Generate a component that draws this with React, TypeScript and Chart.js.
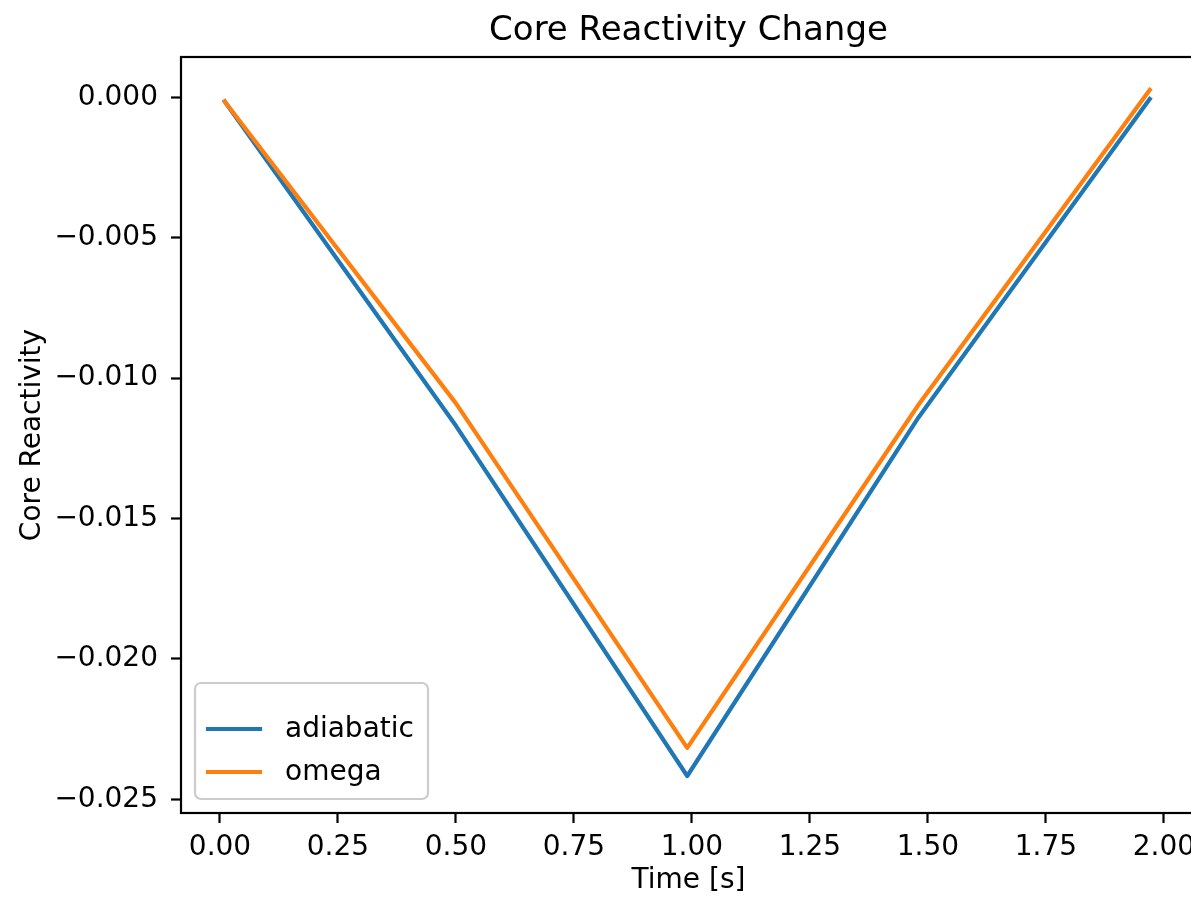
import { useEffect, useRef } from 'react';
import { Chart, registerables } from 'chart.js';

Chart.register(...registerables);

const timeValues = [0.01, 0.5, 0.99, 1.48, 1.97];
const adiabaticValues = [-0.00015, -0.0117, -0.02417, -0.0114, -0.00006];
const omegaValues = [-0.00015, -0.0109, -0.02317, -0.01095, 0.00026];
const xTicks = [0, 0.25, 0.5, 0.75, 1, 1.25, 1.5, 1.75, 2];
const yTicks = [0, -0.005, -0.01, -0.015, -0.02, -0.025];
const seriesLabels = ['adiabatic', 'omega'];
const seriesColors = ['#1f77b4', '#ff7f0e'];
const titleText = 'Core Reactivity Change';
const xLabel = 'Time [s]';
const yLabel = 'Core Reactivity';

const FONT = '"DejaVu Sans", sans-serif';

const decorPlugin = {
  id: 'decor',
  afterDraw(chart: any) {
    const { ctx, chartArea: a } = chart;
    ctx.save();
    // spines
    ctx.strokeStyle = '#000';
    ctx.lineWidth = 2.2;
    ctx.strokeRect(a.left, a.top, a.right - a.left, a.bottom - a.top);
    // title & axis labels
    ctx.fillStyle = '#000';
    ctx.textAlign = 'center';
    ctx.textBaseline = 'alphabetic';
    const cx = (a.left + a.right) / 2;
    ctx.font = `34px ${FONT}`;
    ctx.fillText(titleText, cx, 40);
    ctx.font = `28px ${FONT}`;
    ctx.fillText(xLabel, cx, 888);
    ctx.save();
    ctx.translate(40, (a.top + a.bottom) / 2);
    ctx.rotate(-Math.PI / 2);
    ctx.fillText(yLabel, 0, 0);
    ctx.restore();
    // legend
    ctx.beginPath();
    (ctx as any).roundRect(195, 683, 233, 116, 6);
    ctx.fillStyle = 'rgba(255,255,255,0.8)';
    ctx.fill();
    ctx.strokeStyle = '#cccccc';
    ctx.lineWidth = 2.2;
    ctx.stroke();
    ctx.font = `28px ${FONT}`;
    ctx.textAlign = 'left';
    ctx.textBaseline = 'middle';
    seriesLabels.forEach((lab, i) => {
      const y = 729 + i * 43;
      ctx.beginPath();
      ctx.strokeStyle = seriesColors[i];
      ctx.lineWidth = 4.2;
      ctx.lineCap = 'square';
      ctx.moveTo(208, y);
      ctx.lineTo(260, y);
      ctx.stroke();
      ctx.fillStyle = '#000';
      ctx.fillText(lab, 285, y + 1);
    });
    ctx.restore();
  },
};

export default function App() {
  const ref = useRef<HTMLCanvasElement>(null);
  useEffect(() => {
    if (!ref.current) return;
    const mk = (vals: number[]) => timeValues.map((t, i) => ({ x: t, y: vals[i] }));
    const chart = new Chart(ref.current, {
      type: 'line',
      data: {
        datasets: [
          {
            label: seriesLabels[0],
            data: mk(adiabaticValues),
            borderColor: seriesColors[0],
            backgroundColor: seriesColors[0],
            borderWidth: 4.2,
            pointRadius: 0,
            borderJoinStyle: 'round',
            borderCapStyle: 'square',
            tension: 0,
            order: 1,
          },
          {
            label: seriesLabels[1],
            data: mk(omegaValues),
            borderColor: seriesColors[1],
            backgroundColor: seriesColors[1],
            borderWidth: 4.2,
            pointRadius: 0,
            borderJoinStyle: 'round',
            borderCapStyle: 'square',
            tension: 0,
            order: 0,
          },
        ],
      },
      options: {
        animation: false,
        responsive: false,
        layout: { padding: { left: 0, right: 44, top: 57, bottom: 0 } },
        plugins: {
          legend: { display: false },
          title: { display: false },
          tooltip: { enabled: false },
        },
        scales: {
          x: {
            type: 'linear',
            min: -0.0826,
            max: 2.068,
            afterFit: (s: any) => {
              s.height = 91;
            },
            afterBuildTicks: (s: any) => {
              s.ticks = xTicks.map((v) => ({ value: v }));
            },
            grid: {
              display: true,
              drawOnChartArea: false,
              drawTicks: true,
              tickLength: 10,
              tickWidth: 2.2,
              tickColor: '#000',
            },
            border: { display: false },
            ticks: {
              font: { family: FONT, size: 28 },
              color: '#000',
              padding: 8,
              maxRotation: 0,
              autoSkip: false,
              callback: (v: any) => Number(v).toFixed(2),
            },
          },
          y: {
            type: 'linear',
            min: -0.025488,
            max: 0.001435,
            afterFit: (s: any) => {
              s.width = 181;
            },
            afterBuildTicks: (s: any) => {
              s.ticks = yTicks.map((v) => ({ value: v }));
            },
            grid: {
              display: true,
              drawOnChartArea: false,
              drawTicks: true,
              tickLength: 10,
              tickWidth: 2.2,
              tickColor: '#000',
            },
            border: { display: false },
            ticks: {
              font: { family: FONT, size: 28 },
              color: '#000',
              padding: 13,
              autoSkip: false,
              callback: (v: any) => Number(v).toFixed(3).replace('-', '\u2212'),
            },
          },
        },
      },
      plugins: [decorPlugin],
    });
    return () => chart.destroy();
  }, []);
  return (
    <div
      style={{
        position: 'fixed',
        left: 0,
        top: 0,
        width: 1191,
        height: 904,
        overflow: 'hidden',
        background: '#fff',
      }}
    >
      <canvas ref={ref} width={1240} height={904} style={{ display: 'block' }} />
    </div>
  );
}
